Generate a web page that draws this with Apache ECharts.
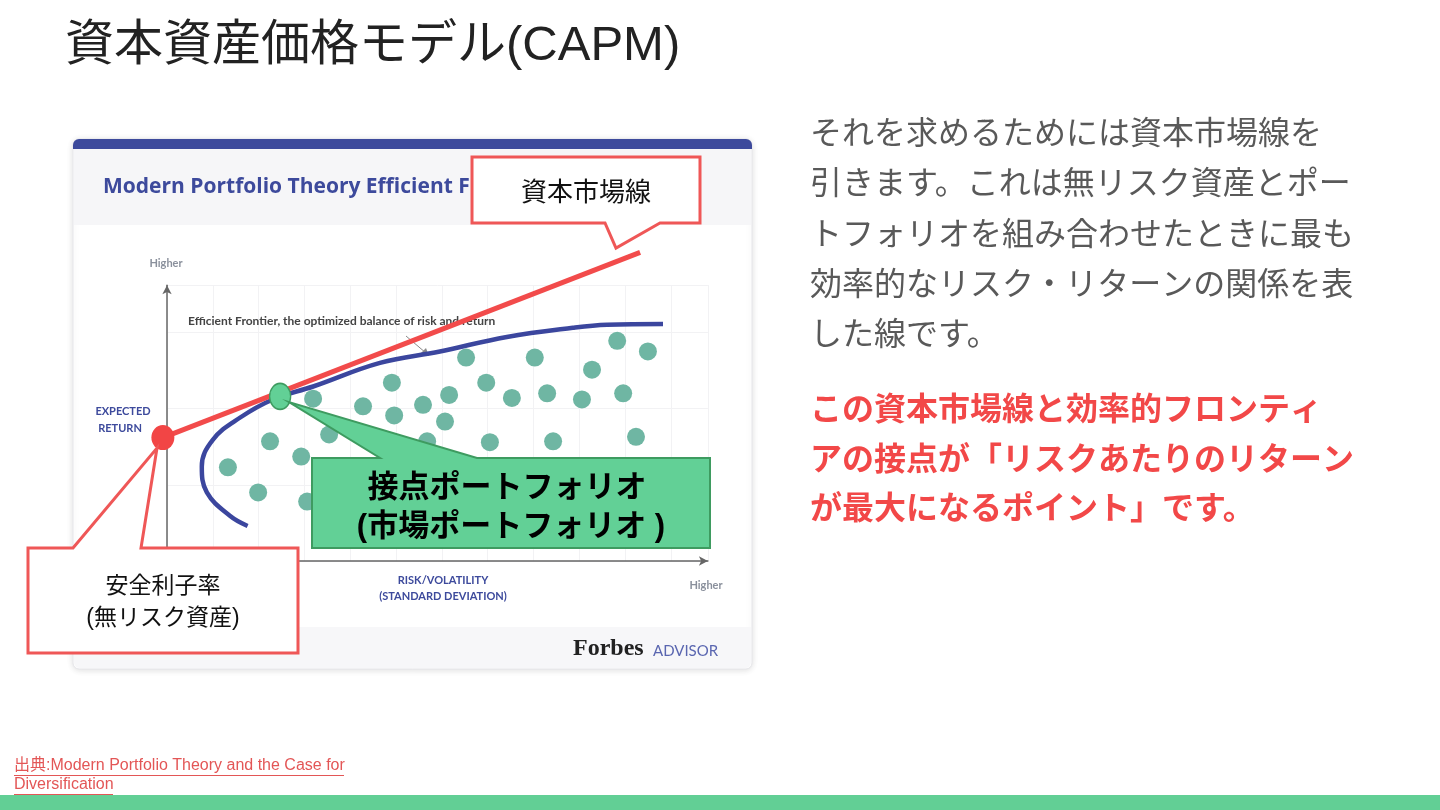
<!DOCTYPE html>
<html><head><meta charset="utf-8">
<script src="https://cdn.jsdelivr.net/npm/echarts@6/dist/echarts.min.js"></script>
<style>html,body{margin:0;padding:0;background:#fff}#c{width:1440px;height:810px}</style>
</head><body><div id="c"></div>
<script>
// ---- data (risk = x, expected return = y, arbitrary units) ----
const riskFree = [-0.9, 16.2];
const tangency = [24.7, 21.6];
const cmlEnd = [103.3, 40.5];
const frontierRisk   = [17.6, 13.8, 8.7, 7.6, 10.0, 15.9, 23.1, 31.9, 46.5, 59.6, 74.2, 88.6, 96.1, 108.3];
const frontierReturn = [4.6, 5.9, 9.0, 12.4, 15.9, 18.8, 21.2, 22.9, 26.0, 27.5, 29.4, 30.6, 31.0, 31.1];
const portfolioRisk   = [13.3, 19.9, 22.5, 29.3, 31.9, 35.4, 42.8, 49.1, 49.6, 55.9, 61.6, 60.7, 65.3, 69.7, 70.5, 75.3, 80.3, 83.0, 84.3, 90.6, 92.8, 98.3, 99.6, 105.0, 102.4, 30.6, 56.8];
const portfolioReturn = [12.3, 9.0, 15.7, 13.7, 21.3, 16.6, 20.3, 23.4, 19.1, 20.5, 21.8, 18.3, 26.7, 23.4, 15.6, 21.4, 26.7, 22.0, 15.7, 21.2, 25.1, 28.9, 22.0, 27.5, 16.3, 7.8, 15.7];

const slideTitle = '資本資産価格モデル(CAPM)';
const bodyLines = ['それを求めるためには資本市場線を', '引きます。これは無リスク資産とポー', 'トフォリオを組み合わせたときに最も', '効率的なリスク・リターンの関係を表', 'した線です。'];
const emphLines = ['この資本市場線と効率的フロンティ', 'アの接点が「リスクあたりのリターン', 'が最大になるポイント」です。'];
const sourceLines = ['出典:Modern Portfolio Theory and the Case for', 'Diversification'];

// ---- layout ----
const X0 = 167, PX = 4.58, Y0 = 561, PY = 7.62;
const dX = [-20, 120], dY = [0, 44];
const fX = [0, 118.1], fY = [0, 36.2];
const zip = (a, b) => a.map((v, i) => [v, b[i]]);
const JP = '"Noto Sans CJK JP"';
const LAT = 'Lato, "Noto Sans"';

const chart = echarts.init(document.getElementById('c'), null, {renderer: 'canvas'});

const graphic = [
  // card
  {type: 'rect', z: -10, shape: {x: 73, y: 139, width: 679, height: 530, r: 6}, style: {fill: '#fff', stroke: '#e6e6ea', lineWidth: 1, shadowBlur: 6, shadowColor: 'rgba(0,0,0,0.12)', shadowOffsetY: 1}},
  {type: 'rect', z: -9, shape: {x: 73, y: 139, width: 679, height: 10, r: [6, 6, 0, 0]}, style: {fill: '#3d4a9c'}},
  {type: 'rect', z: -9, shape: {x: 74, y: 149, width: 677, height: 76}, style: {fill: '#f6f6f8'}},
  {type: 'rect', z: -9, shape: {x: 74, y: 627, width: 677, height: 41, r: [0, 0, 6, 6]}, style: {fill: '#f7f7f9'}},
  {type: 'text', z: -8, style: {x: 103, y: 187, text: 'Modern Portfolio Theory Efficient Frontier', fill: '#3d4a9c', font: 'bold 21px "Open Sans", Lato', textVerticalAlign: 'middle'}},
  {type: 'text', z: -8, style: {x: 166, y: 263, text: 'Higher', fill: '#8a909c', font: 'bold 11px ' + LAT, textAlign: 'center', textVerticalAlign: 'middle'}},
  {type: 'text', z: -8, style: {x: 706, y: 585, text: 'Higher', fill: '#8a909c', font: 'bold 11px ' + LAT, textAlign: 'center', textVerticalAlign: 'middle'}},
  {type: 'text', z: -8, style: {x: 123, y: 411, text: 'EXPECTED', fill: '#3d4a9c', font: 'bold 11px ' + LAT, textAlign: 'center', textVerticalAlign: 'middle'}},
  {type: 'text', z: -8, style: {x: 120, y: 428, text: 'RETURN', fill: '#3d4a9c', font: 'bold 11px ' + LAT, textAlign: 'center', textVerticalAlign: 'middle'}},
  {type: 'text', z: -8, style: {x: 443, y: 580, text: 'RISK/VOLATILITY', fill: '#3d4a9c', font: 'bold 11px ' + LAT, textAlign: 'center', textVerticalAlign: 'middle'}},
  {type: 'text', z: -8, style: {x: 443, y: 596, text: '(STANDARD DEVIATION)', fill: '#3d4a9c', font: 'bold 11px ' + LAT, textAlign: 'center', textVerticalAlign: 'middle'}},
  {type: 'text', z: 3, style: {x: 188, y: 321, text: 'Efficient Frontier, the optimized balance of risk and return', fill: '#444', font: 'bold 12px ' + LAT, textVerticalAlign: 'middle'}},
  {type: 'line', z: 3, shape: {x1: 406, y1: 336, x2: 426, y2: 353}, style: {stroke: '#8a8a8a', lineWidth: 1}},
  {type: 'polygon', z: 3, shape: {points: [[429, 356], [421, 353], [426, 348]]}, style: {fill: '#8a8a8a'}},
  {type: 'text', z: -8, style: {x: 573, y: 649, text: 'Forbes', fill: '#222', font: 'bold 24px "Liberation Serif", "DejaVu Serif"', textVerticalAlign: 'middle'}},
  {type: 'text', z: -8, style: {x: 653, y: 651, text: 'ADVISOR', fill: '#5a66b0', font: '15px ' + LAT, textVerticalAlign: 'middle'}},

  // callout: capital market line
  {type: 'polygon', z: 100, shape: {points: [[472, 157], [700, 157], [700, 223], [660, 223], [616, 248], [605, 223], [472, 223]]}, style: {fill: '#fff', stroke: '#ef5757', lineWidth: 3, lineJoin: 'miter'}},
  {type: 'text', z: 101, style: {x: 586, y: 191, text: '資本市場線', fill: '#111', font: '26px ' + JP, textAlign: 'center', textVerticalAlign: 'middle'}},
  // callout: risk-free rate
  {type: 'polygon', z: 100, shape: {points: [[28, 548], [73, 548], [157, 448], [141, 548], [298, 548], [298, 653], [28, 653]]}, style: {fill: '#fff', stroke: '#ef5757', lineWidth: 3}},
  {type: 'text', z: 101, style: {x: 163, y: 584, text: '安全利子率', fill: '#111', font: '23px ' + JP, textAlign: 'center', textVerticalAlign: 'middle'}},
  {type: 'text', z: 101, style: {x: 163, y: 619, text: '(無リスク資産)', fill: '#111', font: '23px "Liberation Sans", ' + JP, textAlign: 'center', textVerticalAlign: 'middle'}},
  // callout: tangency portfolio
  {type: 'polygon', z: 100, shape: {points: [[312, 458], [380, 458], [289, 402], [477, 458], [710, 458], [710, 548], [312, 548]]}, style: {fill: '#62d096', stroke: '#3e9b60', lineWidth: 2}},
  {type: 'text', z: 101, style: {x: 507, y: 485, text: '接点ポートフォリオ', fill: '#000', font: 'bold 31px ' + JP, textAlign: 'center', textVerticalAlign: 'middle'}},
  {type: 'text', z: 101, style: {x: 511, y: 527, text: '(市場ポートフォリオ )', fill: '#000', font: 'bold 31px "Liberation Sans", ' + JP, textAlign: 'center', textVerticalAlign: 'middle'}},

  // slide title
  {type: 'text', z: 10, style: {x: 65, y: 46, text: slideTitle, fill: '#222', font: '49px "Liberation Sans", ' + JP, textVerticalAlign: 'middle'}},
  // bottom band
  {type: 'rect', z: 10, shape: {x: 0, y: 795, width: 1440, height: 15}, style: {fill: '#62cf95'}}
];
bodyLines.forEach((t, i) => graphic.push({type: 'text', z: 10, style: {x: 810, y: 132 + i * 50.2, text: t, fill: '#595959', font: '32px ' + JP, textVerticalAlign: 'middle'}}));
emphLines.forEach((t, i) => graphic.push({type: 'text', z: 10, style: {x: 810, y: 408 + i * 49.5, text: t, fill: '#f24848', font: 'bold 32px ' + JP, textVerticalAlign: 'middle'}}));
const srcW = [330, 99];
sourceLines.forEach((t, i) => {
  graphic.push({type: 'text', z: 10, style: {x: 14, y: 766 + i * 19, text: t, fill: '#e35656', font: '16px "Liberation Sans", ' + JP, textVerticalAlign: 'middle'}});
  graphic.push({type: 'rect', z: 10, shape: {x: 14, y: 775 + i * 19, width: srcW[i], height: 1}, style: {fill: '#e35656'}});
});

const hid = {show: false};
chart.setOption({
  animation: false,
  backgroundColor: '#fff',
  graphic: graphic,
  grid: [
    {left: X0 + dX[0] * PX, width: (dX[1] - dX[0]) * PX, top: Y0 - dY[1] * PY, height: (dY[1] - dY[0]) * PY, containLabel: false},
    {left: X0, width: fX[1] * PX, top: Y0 - fY[1] * PY, height: fY[1] * PY, containLabel: false}
  ],
  xAxis: [
    {type: 'value', gridIndex: 0, min: dX[0], max: dX[1], axisLine: hid, axisTick: hid, axisLabel: hid, splitLine: hid},
    {type: 'value', gridIndex: 1, min: fX[0], max: fX[1], interval: 10,
      axisLine: {show: true, symbol: ['none', 'arrow'], symbolSize: [7, 9], lineStyle: {color: '#666', width: 1.5}},
      axisTick: hid, axisLabel: hid, splitLine: {show: true, lineStyle: {color: '#f2f2f4', width: 1}}}
  ],
  yAxis: [
    {type: 'value', gridIndex: 0, min: dY[0], max: dY[1], axisLine: hid, axisTick: hid, axisLabel: hid, splitLine: hid},
    {type: 'value', gridIndex: 1, min: fY[0], max: fY[1], interval: 10,
      axisLine: {show: true, symbol: ['none', 'arrow'], symbolSize: [7, 9], lineStyle: {color: '#666', width: 1.5}},
      axisTick: hid, axisLabel: hid, splitLine: {show: true, lineStyle: {color: '#f2f2f4', width: 1}}}
  ],
  series: [
    {type: 'scatter', xAxisIndex: 0, yAxisIndex: 0, z: 2, symbolSize: 18, data: zip(portfolioRisk, portfolioReturn), itemStyle: {color: '#6fb6a3', opacity: 1}, silent: true},
    {type: 'line', xAxisIndex: 0, yAxisIndex: 0, z: 3, smooth: 0.4, showSymbol: false, data: zip(frontierRisk, frontierReturn), lineStyle: {color: '#3b469e', width: 4.5, cap: 'butt'}, silent: true},
    {type: 'line', xAxisIndex: 0, yAxisIndex: 0, z: 5, showSymbol: false, data: [riskFree, cmlEnd], lineStyle: {color: '#f24b4b', width: 5}, silent: true},
    {type: 'scatter', xAxisIndex: 0, yAxisIndex: 0, z: 6, symbolSize: [23, 25], data: [riskFree], itemStyle: {color: '#f24545', opacity: 1}, silent: true},
    {type: 'scatter', xAxisIndex: 0, yAxisIndex: 0, z: 6, symbolSize: [21, 26], data: [tangency], itemStyle: {color: '#62d096', borderColor: '#3e9b60', borderWidth: 1.5, opacity: 1}, silent: true}
  ]
});
</script></body></html>
